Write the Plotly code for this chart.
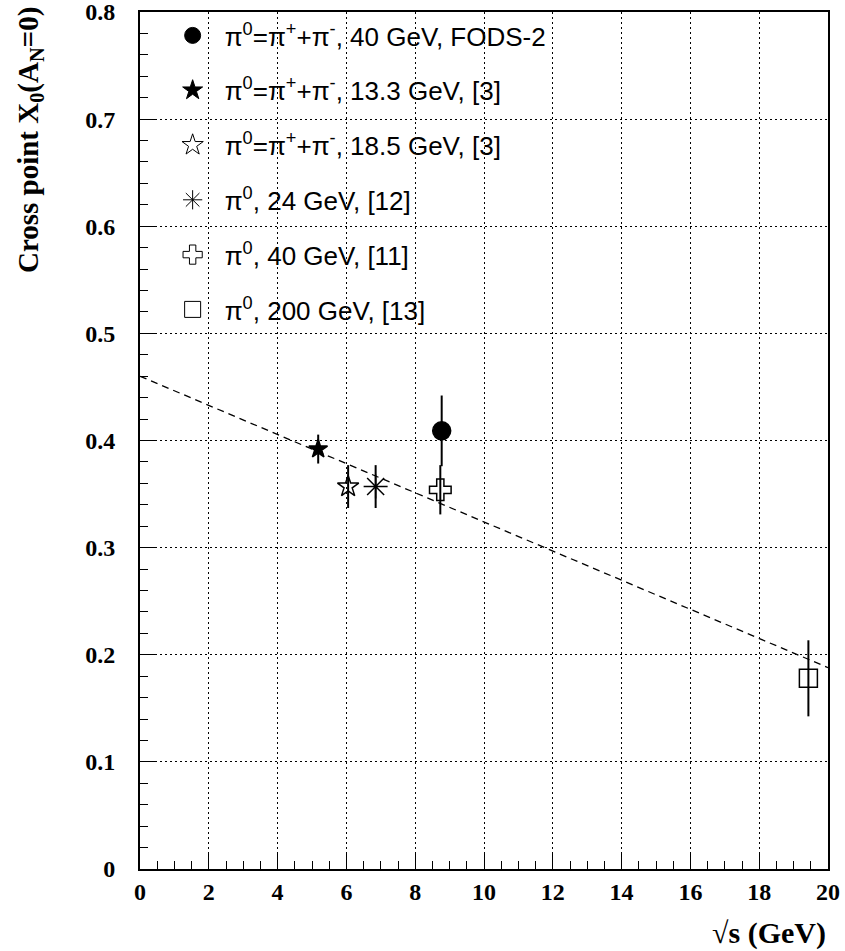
import plotly.graph_objects as go

# ---- data ----
labels = [
    "π<sup>0</sup>=π<sup>+</sup>+π<sup>-</sup>, 40 GeV, FODS-2",
    "π<sup>0</sup>=π<sup>+</sup>+π<sup>-</sup>, 13.3 GeV, [3]",
    "π<sup>0</sup>=π<sup>+</sup>+π<sup>-</sup>, 18.5 GeV, [3]",
    "π<sup>0</sup>, 24 GeV, [12]",
    "π<sup>0</sup>, 40 GeV, [11]",
    "π<sup>0</sup>, 200 GeV, [13]",
]
sqrt_s = [8.77, 5.18, 6.05, 6.85, 8.73, 19.43]
x0_vals = [0.409, 0.392, 0.357, 0.357, 0.354, 0.178]
x0_errs = [0.033, 0.0135, 0.020, 0.020, 0.023, 0.0355]
symbols = ["circle", "star", "star-open", "asterisk-open", "cross-open", "square-open"]
sizes = [18, 14, 16, 20, 18, 18]
legend_sizes = [18, 15, 16, 18, 17, 18]

fit_x = [0, 20]
fit_y = [0.46, 0.188]

x_ticks = [0, 2, 4, 6, 8, 10, 12, 14, 16, 18, 20]
y_ticks = [0, 0.1, 0.2, 0.3, 0.4, 0.5, 0.6, 0.7, 0.8]
y_tick_text = ["0", "0.1", "0.2", "0.3", "0.4", "0.5", "0.6", "0.7", "0.8"]

fig = go.Figure()

fig.add_trace(go.Scatter(
    x=fit_x, y=fit_y, mode="lines",
    line=dict(color="black", width=1.3, dash="7px,5px"),
    showlegend=False, hoverinfo="skip",
))

for i in range(len(labels)):
    fig.add_trace(go.Scatter(
        x=[sqrt_s[i]], y=[x0_vals[i]], mode="markers",
        marker=dict(symbol=symbols[i], size=sizes[i], color="black",
                    line=dict(color="black", width=1.5)),
        error_y=dict(type="data", array=[x0_errs[i]], visible=True,
                     color="black", thickness=2, width=0),
        showlegend=False,
    ))
    # legend entry
    fig.add_trace(go.Scatter(
        x=[None], y=[None], mode="markers", name=labels[i],
        legendgroup="g%d" % i,
        marker=dict(symbol=symbols[i], size=legend_sizes[i], color="black",
                    line=dict(color="black", width=1.0)),
        showlegend=True,
    ))

tickfont = dict(family="Liberation Serif", size=24, color="black", weight="bold")

fig.update_xaxes(
    range=[0, 20], tickvals=x_ticks, ticktext=[str(v) for v in x_ticks],
    showline=True, linecolor="black", linewidth=2, mirror=True,
    ticks="inside", ticklen=16, tickwidth=1, tickcolor="black",
    showgrid=True, gridcolor="black", griddash="2px,3px", gridwidth=1,
    zeroline=False, tickfont=tickfont, automargin=False, ticklabelstandoff=0,
    ticklabeloverflow="allow",
    minor=dict(dtick=0.5, ticks="inside", ticklen=8, tickcolor="black", showgrid=False),
)
fig.update_yaxes(
    range=[0, 0.8], tickvals=y_ticks, ticktext=y_tick_text,
    showline=True, linecolor="black", linewidth=2, mirror=True,
    ticks="inside", ticklen=16, tickwidth=1, tickcolor="black",
    showgrid=True, gridcolor="black", griddash="2px,3px", gridwidth=1,
    zeroline=False, tickfont=tickfont, automargin=False, ticklabelstandoff=18,
    ticklabeloverflow="allow",
    minor=dict(dtick=0.02, ticks="inside", ticklen=8, tickcolor="black", showgrid=False),
)

fig.add_annotation(
    text="<b>Cross point X<sub>0</sub>(A<sub>N</sub>=0)</b>",
    xref="paper", yref="paper", x=-0.16, y=1.008, xanchor="center", yanchor="top",
    textangle=-90, showarrow=False,
    font=dict(family="Liberation Serif", size=29, color="black"),
)
fig.add_annotation(
    text="<b>√s (GeV)</b>",
    xref="paper", yref="paper", x=1.0, y=-0.075, xanchor="right", yanchor="middle",
    showarrow=False,
    font=dict(family="Liberation Serif", size=30, color="black"),
)

fig.update_layout(
    width=845, height=951,
    margin=dict(l=140, r=17, t=12, b=82),
    paper_bgcolor="white", plot_bgcolor="white",
    legend=dict(
        x=0.03, y=1.0, xanchor="left", yanchor="top",
        bgcolor="rgba(0,0,0,0)", borderwidth=0,
        font=dict(family="Liberation Sans", size=26, color="black"),
        tracegroupgap=18, itemwidth=54,
    ),
)

fig.write_html("out.html", config={"displayModeBar": False},
               post_script="document.body.style.margin='0px';")
